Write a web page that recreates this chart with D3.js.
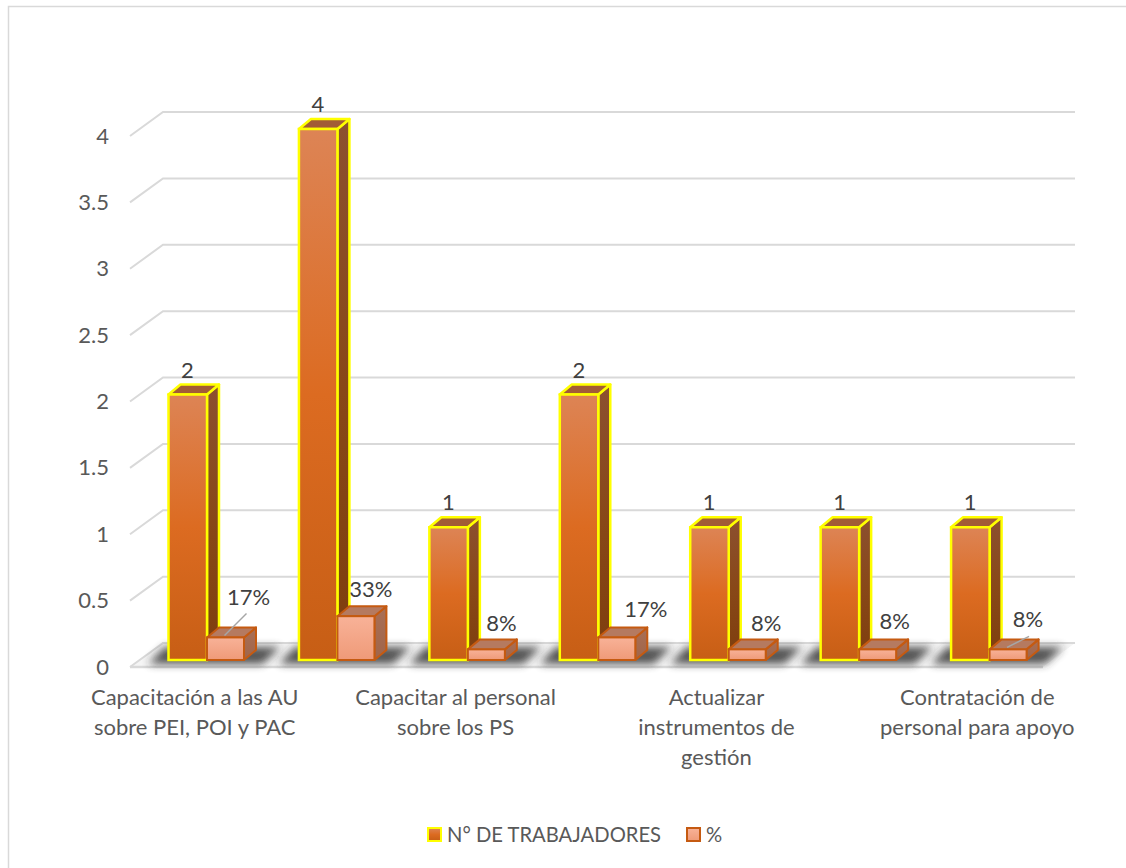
<!DOCTYPE html>
<html lang="es">
<head>
<meta charset="UTF-8">
<title>Chart</title>
<script src="https://d3js.org/d3.v7.min.js"></script>
<style>
  html, body { margin: 0; padding: 0; background: #fff; }
  svg { display: block; }
  text { font-family: Lato, "Open Sans", sans-serif; }
</style>
</head>
<body>
<script>
// only every other category has a visible label in the picture
const categories = [
  ["Capacitación a las AU", "sobre PEI, POI y PAC"],
  [],
  ["Capacitar al personal", "sobre los PS"],
  [],
  ["Actualizar", "instrumentos de", "gestión"],
  [],
  ["Contratación de", "personal para apoyo"]
];
const trabajadores = [2, 4, 1, 2, 1, 1, 1];
const porcentaje = [0.17, 0.33, 0.08, 0.17, 0.08, 0.08, 0.08];
const yTicks = [0, 0.5, 1, 1.5, 2, 2.5, 3, 3.5, 4];
const seriesNames = ["N° DE TRABAJADORES", "%"];

const w = 1126;
const h = 868;

// 3D offsets of the chart box and of each bar
const wallDx = 33, wallDy = -24;
const barDx = 12, barDy = -10;
const floorInset = 7;

const yScale = d3.scaleLinear().domain([0, 4]).range([667, 136]);
const xScale = d3.scaleBand().domain(d3.range(categories.length)).range([130, 1043]);
const barW = 37;
const barGap = 1.5;
const barLeft = i => xScale(i) + 38.5;

const svg = d3.select("body").append("svg").attr("width", w).attr("height", h);
const defs = svg.append("defs");

function vGrad(id, stops) {
  const g = defs.append("linearGradient").attr("id", id)
    .attr("x1", 0).attr("y1", 0).attr("x2", 0).attr("y2", 1);
  stops.forEach(s => g.append("stop").attr("offset", s[0]).attr("stop-color", s[1]));
}
vGrad("frontA", [[0, "#dd8455"], [0.5, "#dc6b21"], [1, "#c75e15"]]);
vGrad("sideA", [[0, "#8c5030"], [0.5, "#884818"], [1, "#7e3e0e"]]);
vGrad("frontB", [[0, "#f8b298"], [1, "#ef9a78"]]);
vGrad("sideB", [[0, "#a96f55"], [1, "#a0654a"]]);
defs.append("filter").attr("id", "blur")
  .attr("x", "-30%").attr("y", "-100%").attr("width", "160%").attr("height", "300%")
  .append("feGaussianBlur").attr("stdDeviation", 4.5);

// outer frame
svg.append("rect").attr("x", 8.5).attr("y", 6.5).attr("width", 1200).attr("height", 900)
  .attr("fill", "#fff").attr("stroke", "#d9d9d9").attr("stroke-width", 1.5);

// floor
const y0 = yScale(0);
svg.append("path")
  .attr("d", `M130,${y0}L1043,${y0}L${1075},${y0 + wallDy}L${130 + wallDx},${y0 + wallDy}Z`)
  .attr("fill", "#f5f5f5");
svg.append("line").attr("x1", 130).attr("x2", 1043).attr("y1", y0).attr("y2", y0)
  .attr("stroke", "#d9d9d9").attr("stroke-width", 2.5);

// gridlines
svg.append("g").selectAll("path").data(yTicks).enter().append("path")
  .attr("d", d => `M130,${yScale(d)}L${130 + wallDx},${yScale(d) + wallDy}L1075,${yScale(d) + wallDy}`)
  .attr("fill", "none").attr("stroke", "#d9d9d9").attr("stroke-width", 2);

// y axis labels
const labelSize = 22;
svg.append("g").selectAll("text").data(yTicks).enter().append("text")
  .attr("x", 109).attr("y", d => yScale(d) + 7.5)
  .attr("text-anchor", "end").attr("font-size", labelSize).attr("fill", "#595959")
  .text(d => d);

// shadows under each pair of bars
svg.append("g").selectAll("path").data(categories).enter().append("path")
  .attr("d", (d, i) => {
    const x = barLeft(i);
    const yb = y0 - 3;
    return `M${x - 20},${yb}L${x - 4},${yb - 17}L${x + 112},${yb - 17}L${x + 94},${yb}Z`;
  })
  .attr("fill", "#2b2b2b").attr("opacity", 0.8).attr("filter", "url(#blur)");

// draws one 3D bar: side, top, then front
function box(g, x, value, wid, cls) {
  const top = yScale(value) - floorInset;
  const base = y0 - floorInset;
  const stroke = cls === "A" ? "#ffff00" : "#c55a11";
  const sw = cls === "A" ? 2.5 : 2;
  g.append("path")
    .attr("d", `M${x + wid},${top}L${x + wid + barDx},${top + barDy}L${x + wid + barDx},${base + barDy}L${x + wid},${base}Z`)
    .attr("fill", `url(#side${cls})`).attr("stroke", stroke).attr("stroke-width", sw).attr("stroke-linejoin", "round");
  g.append("path")
    .attr("d", `M${x},${top}L${x + barDx},${top + barDy}L${x + wid + barDx},${top + barDy}L${x + wid},${top}Z`)
    .attr("fill", cls === "A" ? "#a25c36" : "#b57a60").attr("stroke", stroke).attr("stroke-width", sw).attr("stroke-linejoin", "round");
  g.append("rect")
    .attr("x", x).attr("y", top).attr("width", wid).attr("height", base - top)
    .attr("fill", `url(#front${cls})`).attr("stroke", stroke).attr("stroke-width", sw);
}

const bars = svg.append("g");
categories.forEach((c, i) => {
  box(bars, barLeft(i), trabajadores[i], barW + barGap, "A");
  box(bars, barLeft(i) + barW + barGap, porcentaje[i], barW, "B");
});

// data labels
svg.append("g").selectAll("text").data(trabajadores).enter().append("text")
  .attr("x", (d, i) => barLeft(i) + 19)
  .attr("y", d => yScale(d) - floorInset + barDy - 7)
  .attr("text-anchor", "middle").attr("font-size", labelSize).attr("fill", "#404040")
  .text(d => d);

// manual label nudges from the picture [dx, dy]
const pctNudge = [[23, -11], [15, 2], [15, 3], [29, 1], [19, 3], [17, 1], [20, -1]];
const leaderRise = [22, 0, 0, 0, 0, 0, 11];
const pctX = i => barLeft(i) + barW + barGap + barW / 2;
const pctTop = d => yScale(d) - floorInset;

// leader lines on the labels that were moved away from their bar
svg.append("g").selectAll("line").data(porcentaje).enter().append("line")
  .attr("display", (d, i) => leaderRise[i] ? null : "none")
  .attr("x1", (d, i) => pctX(i) - 1).attr("y1", d => pctTop(d) + barDy / 2 + 3)
  .attr("x2", (d, i) => pctX(i) + 21).attr("y2", (d, i) => pctTop(d) + barDy / 2 + 3 - leaderRise[i])
  .attr("stroke", "#a6a6a6").attr("stroke-width", 1.5);

svg.append("g").selectAll("text").data(porcentaje).enter().append("text")
  .attr("x", (d, i) => pctX(i) + pctNudge[i][0])
  .attr("y", (d, i) => pctTop(d) - 21 + pctNudge[i][1])
  .attr("text-anchor", "middle").attr("font-size", labelSize).attr("fill", "#404040")
  .text(d3.format(".0%"));

// category labels
const lineH = 30;
const catG = svg.append("g");
categories.forEach((lines, i) => {
  lines.forEach((t, j) => {
    catG.append("text")
      .attr("x", xScale(i) + xScale.bandwidth() / 2 - 0.5)
      .attr("y", 705 + j * lineH)
      .attr("text-anchor", "middle").attr("font-size", labelSize).attr("fill", "#595959")
      .text(t);
  });
});

// legend
const legend = svg.append("g");
const legendItems = [
  { x: 428, tx: 447, front: "url(#frontA)", stroke: "#ffff00" },
  { x: 687, tx: 706, front: "url(#frontB)", stroke: "#c55a11" }
];
legendItems.forEach((it, i) => {
  legend.append("rect").attr("x", it.x).attr("y", 828).attr("width", 13).attr("height", 13)
    .attr("fill", it.front).attr("stroke", it.stroke).attr("stroke-width", 2);
  legend.append("text").attr("x", it.tx).attr("y", 842)
    .attr("font-size", 20.2).attr("fill", "#595959").text(seriesNames[i]);
});
</script>
</body>
</html>
